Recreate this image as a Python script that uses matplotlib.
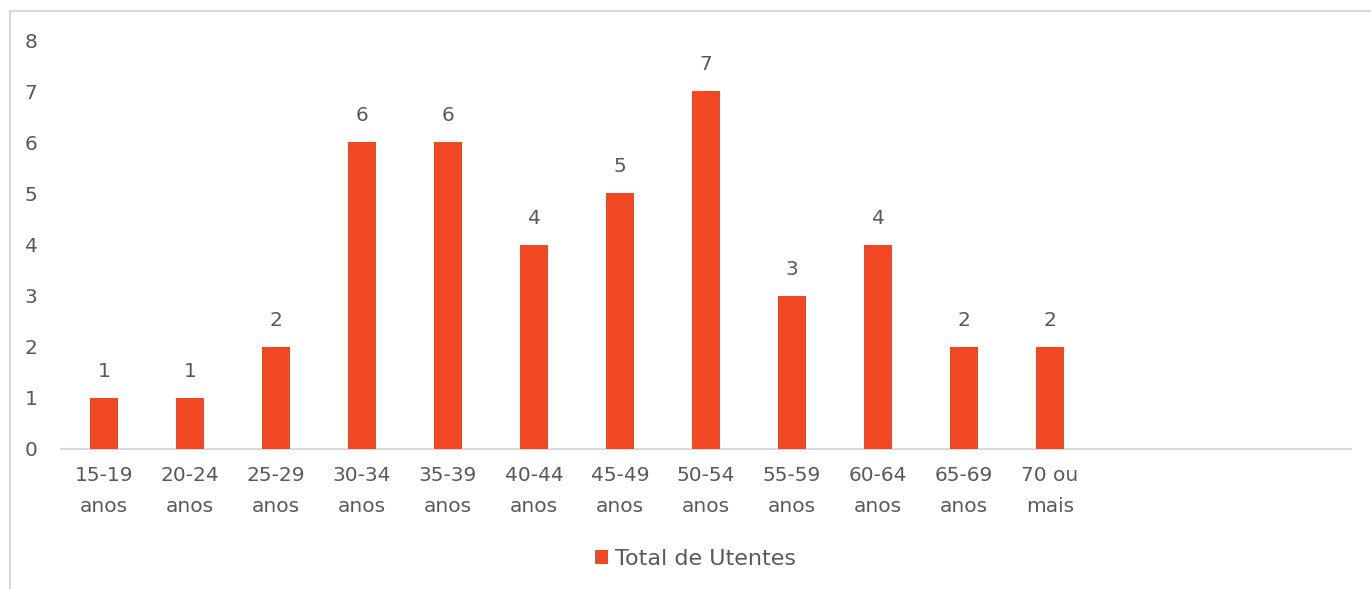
import matplotlib
matplotlib.use("Agg")
import matplotlib.pyplot as plt
from matplotlib.patches import Patch
from matplotlib.lines import Line2D

categories = ["15-19\nanos", "20-24\nanos", "25-29\nanos", "30-34\nanos", "35-39\nanos",
              "40-44\nanos", "45-49\nanos", "50-54\nanos", "55-59\nanos", "60-64\nanos",
              "65-69\nanos", "70 ou\nmais", "", "", ""]
values = [1, 1, 2, 6, 6, 4, 5, 7, 3, 4, 2, 2]
series_name = "Total de Utentes"
yticks = [0, 1, 2, 3, 4, 5, 6, 7, 8]

bar_color = "#EF4823"
text_color = "#595959"
axis_color = "#D9D9D9"

plt.rcParams['font.family'] = ['DejaVu Sans']

W, H = 1371, 589
fig = plt.figure(figsize=(W / 100, H / 100), dpi=100)
ax = fig.add_axes([61 / W, (H - 449) / H, (1351 - 61) / W, (449 - 40) / H])

x = list(range(len(values)))
bars = ax.bar(x, values, width=0.315, color=bar_color, zorder=3)
for xi, v in zip(x, values):
    ax.annotate(str(v), (xi, v), xytext=(0, 19), textcoords="offset points",
                ha="center", va="center", fontsize=14.5, color=text_color)

ax.set_xlim(-0.5, len(categories) - 0.5)
ax.set_ylim(0, 8)
ax.set_xticks(range(len(categories)))
ax.set_xticklabels(categories, fontsize=14.5, color=text_color, linespacing=1.75)
ax.set_yticks(yticks)
ax.set_yticklabels([str(t) for t in yticks], fontsize=14.5, color=text_color)
ax.tick_params(axis='x', length=0, pad=12.5)
ax.tick_params(axis='y', length=0, pad=17)
for s in ["top", "right", "left"]:
    ax.spines[s].set_visible(False)
ax.spines["bottom"].set_color(axis_color)
ax.spines["bottom"].set_linewidth(1.5)

handle = Patch(facecolor=bar_color, edgecolor='none')
fig.legend([handle], [series_name], loc="center", bbox_to_anchor=(695 / W, (H - 559) / H),
           frameon=False, fontsize=16, labelcolor=text_color, handlelength=0.6,
           handleheight=0.6, handletextpad=0.3)

# outer chart border (top and left visible)
fig.add_artist(Line2D([9.5 / W, 1], [(H - 10.5) / H, (H - 10.5) / H], color=axis_color, lw=1.5))
fig.add_artist(Line2D([9.5 / W, 9.5 / W], [0, (H - 10.5) / H], color=axis_color, lw=1.5))

fig.savefig("out.png", dpi=100, facecolor="white")
